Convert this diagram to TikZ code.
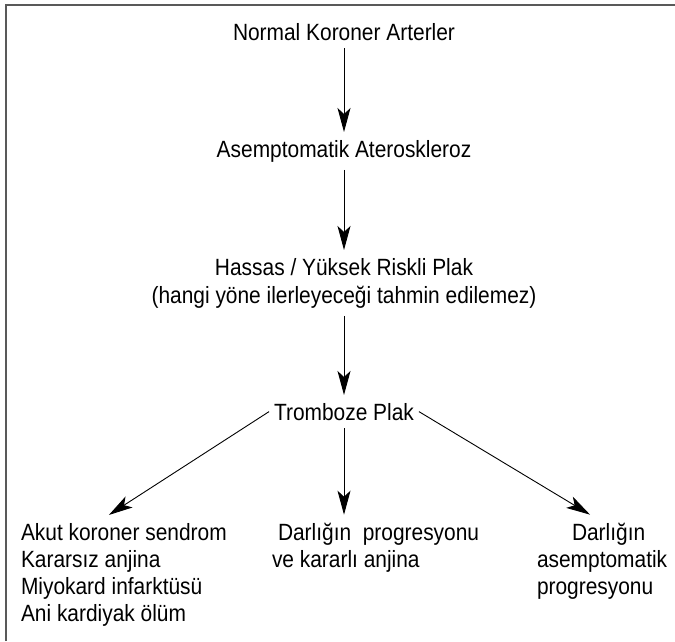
\documentclass[tikz,border=0pt]{standalone}
\usepackage{fontspec}
\setmainfont{Liberation Sans}[FakeStretch=0.89]
\usetikzlibrary{arrows.meta}

\tikzset{
    lbl/.style={inner xsep=0pt, inner ysep=8pt, outer sep=0pt,
        font=\fontsize{23.5}{27}\selectfont},
    arr/.style={-{Stealth[length=24pt,width=13pt,inset=6pt]}, line width=0.9pt},
}

\begin{document}
\begin{tikzpicture}[x=1pt,y=-1pt]
    \useasboundingbox (0,0) rectangle (675,641);
    %% Frame (only its top and left sides are in the picture)
    \draw[black!65, line width=1.2pt] (6,641) |- (675,5);

    %% The chain of stages
    \node[lbl, anchor=base] (normal) at (344,40) {Normal Koroner Arterler};
    \node[lbl, anchor=base] (asemp) at (344,157) {Asemptomatik Ateroskleroz};
    \node[lbl, anchor=base, align=center] (hassas) at (344,303)
        {Hassas / Yüksek Riskli Plak\\[1pt](hangi yöne ilerleyeceği tahmin edilemez)};
    \node[lbl, anchor=base, inner xsep=5pt] (tromboze) at (344,420) {Tromboze Plak};

    %% The three outcomes
    \node[lbl, anchor=base west, align=left] (akut) at (21,621)
        {Akut koroner sendrom\\Kararsız anjina\\Miyokard infarktüsü\\Ani kardiyak ölüm};
    \node[lbl, anchor=base west, align=left] (darlik) at (272,567)
        {\hspace*{6pt}Darlığın\ \ progresyonu\\ve kararlı anjina};
    \node[lbl, anchor=base west, align=left] (asempprog) at (537,594)
        {\hspace*{35pt}Darlığın\\asemptomatik\\progresyonu};

    %% Arrows
    \path[arr] (normal) edge (asemp);
    \path[arr] (asemp) edge (hassas);
    \path[arr] (hassas) edge (tromboze);
    \path[arr] (tromboze.west) edge ([xshift=-15pt]akut.north);
    \path[arr] (tromboze.south) edge (tromboze.south |- darlik.north);
    \path[arr] (tromboze.east) edge ([xshift=-12pt]asempprog.north);
\end{tikzpicture}
\end{document}
